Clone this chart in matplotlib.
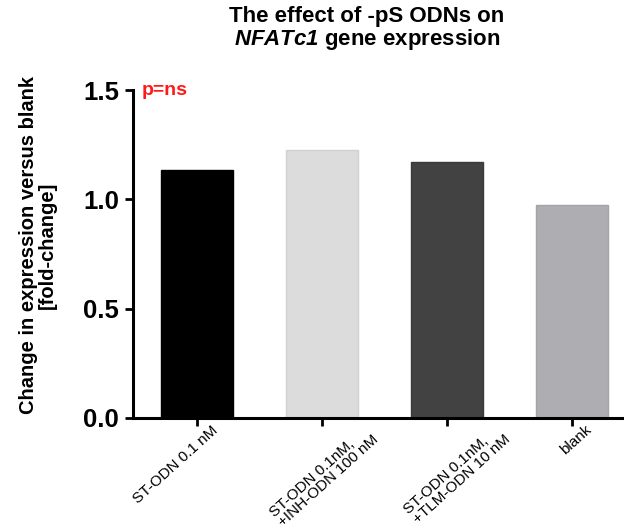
import matplotlib
matplotlib.use('Agg')
import matplotlib.pyplot as plt
from matplotlib.transforms import ScaledTranslation

plt.rcParams['font.family'] = ['Liberation Sans', 'DejaVu Sans']
plt.rcParams['mathtext.fontset'] = 'custom'
plt.rcParams['mathtext.rm'] = 'Liberation Sans:italic:bold'

groups = ['ST-ODN 0.1 nM',
          'ST-ODN 0.1nM,\n+INH-ODN 100 nM',
          'ST-ODN 0.1nM,\n+TLM-ODN 10 nM',
          'blank']
fold_change = [1.134, 1.225, 1.170, 0.975]
bar_colors = ['#000000', '#dcdcdc', '#424242', '#aeadb1']
edge_colors = ['#000000', '#d0d0d0', '#3a3a3a', '#a4a3a7']
yticks = [0.0, 0.5, 1.0, 1.5]

fig = plt.figure(figsize=(6.24, 5.31), dpi=100)
ax = fig.add_axes([0.213, 0.213, 0.784, 0.617])

x = list(range(len(groups)))
ax.bar(x, fold_change, width=0.58, color=bar_colors, edgecolor=edge_colors, linewidth=1)

ax.set_xlim(-0.512, 3.4)
ax.set_ylim(0, 1.5)
ax.set_yticks(yticks)
ax.set_yticklabels([f'{t:.1f}' for t in yticks], fontsize=18.5, fontweight='bold')
ax.set_xticks(x)
ax.set_xticklabels([])

# rotated group labels under the ticks
shifts = [-0.21, 0.02, 0.1, 0.04]
for xi, name, dx in zip(x, groups, shifts):
    tr = ax.get_xaxis_transform() + ScaledTranslation(dx, -0.05, fig.dpi_scale_trans)
    ax.text(xi, 0, name, transform=tr, rotation=42, ha='center', va='top',
            fontsize=11, multialignment='left', linespacing=0.9, clip_on=False)

for side in ['top', 'right']:
    ax.spines[side].set_visible(False)
for side in ['left', 'bottom']:
    ax.spines[side].set_linewidth(2.2)
ax.tick_params(axis='both', width=2, length=6)
ax.tick_params(axis='y', pad=4)

ax.set_ylabel('Change in expression versus blank\n[fold-change]',
              fontsize=14.5, fontweight='bold', linespacing=1.0)
ax.yaxis.set_label_coords(-0.155, 0.527)

ax.text(0.018, 1.0, 'p=ns', transform=ax.transAxes, color='#ff1a1a',
        fontsize=14, fontweight='bold', va='center', ha='left')

fig.text(0.588, 0.988, 'The effect of -pS ODNs on\n$\\mathrm{NFATc1}$ gene expression',
         ha='center', va='top', fontsize=16, fontweight='bold', linespacing=1.0)

fig.savefig('out.png', dpi=100)
